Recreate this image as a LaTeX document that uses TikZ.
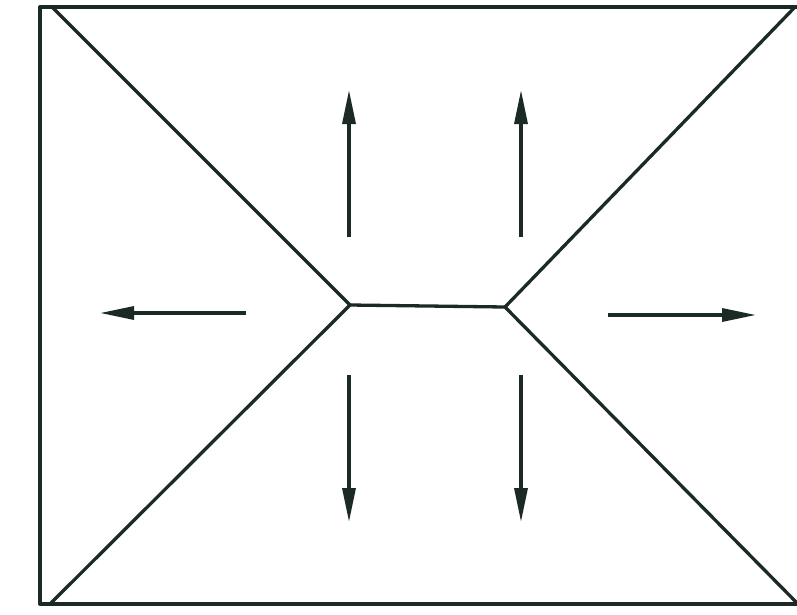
\documentclass[tikz,border=0pt]{standalone}
\usetikzlibrary{arrows.meta}
\definecolor{ink}{HTML}{1C2A26}
\begin{document}
\begin{tikzpicture}[x=1pt,y=-1pt,
  edge/.style={draw=ink,line width=3.3pt,line cap=round,line join=round},
  push/.style={draw=ink,line width=3.3pt,-{Triangle[length=34pt,width=13pt]}}]
\useasboundingbox (0,0) rectangle (797,614);
\coordinate (tl) at (40,7);
\coordinate (tr) at (800,7);
\coordinate (bl) at (40,604);
\coordinate (br) at (800,604);
\coordinate (ctl) at (52,7);
\coordinate (ctr) at (795,7);
\coordinate (cbl) at (50,604);
\coordinate (cbr) at (798,604);
\coordinate (L) at (350,305);
\coordinate (R) at (505,307);
\draw[edge] (tl) rectangle (br);
\draw[edge] (ctl) -- (L) -- (cbl);
\draw[edge] (L) -- (R);
\draw[edge] (ctr) -- (R) -- (cbr);
% arrows
\coordinate (u1s) at (349,237); \coordinate (u1e) at (349,90);
\coordinate (u2s) at (521,237); \coordinate (u2e) at (521,90);
\coordinate (d1s) at (349,375); \coordinate (d1e) at (349,522);
\coordinate (d2s) at (521,375); \coordinate (d2e) at (521,522);
\coordinate (ls) at (246,313); \coordinate (le) at (100,313);
\coordinate (rs) at (608,315); \coordinate (re) at (756,315);
\draw[push] (u1s) -- (u1e);
\draw[push] (u2s) -- (u2e);
\draw[push] (d1s) -- (d1e);
\draw[push] (d2s) -- (d2e);
\draw[push] (ls) -- (le);
\draw[push] (rs) -- (re);
\end{tikzpicture}
\end{document}
